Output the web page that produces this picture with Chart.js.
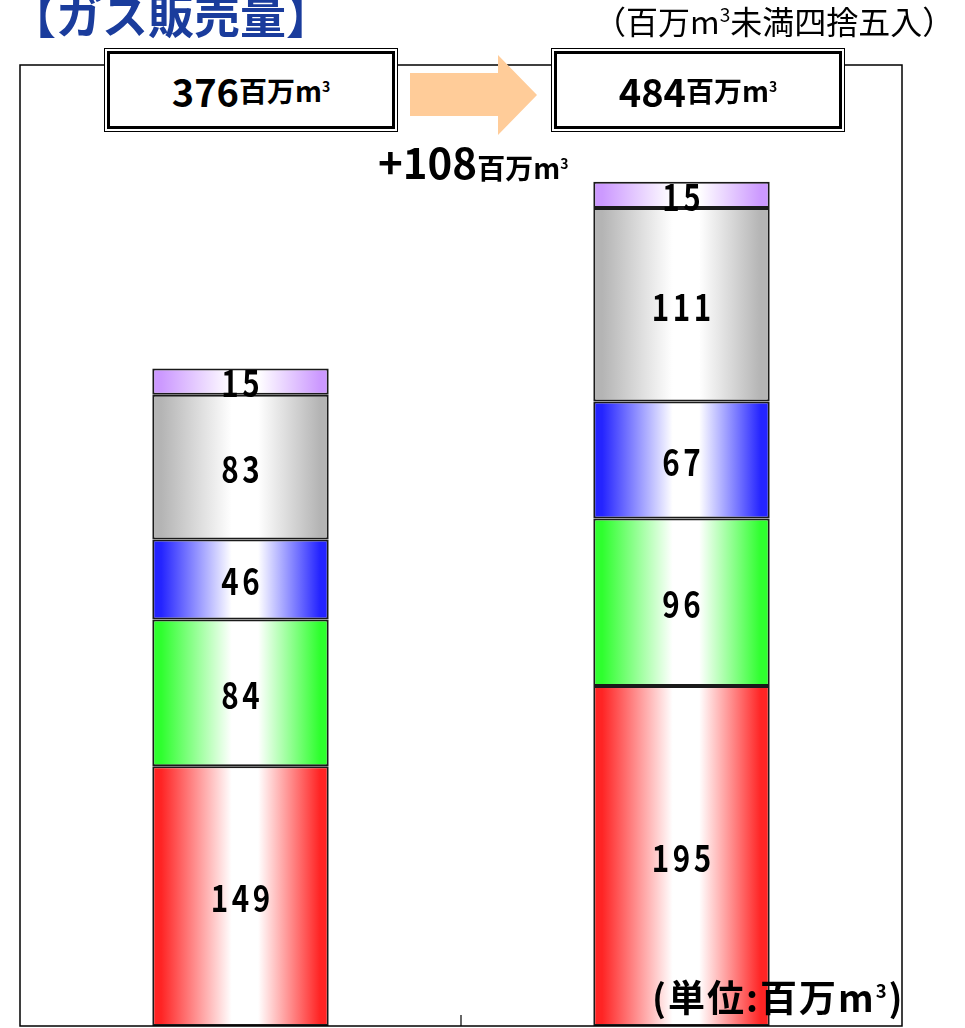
<!DOCTYPE html>
<html lang="ja">
<head>
<meta charset="utf-8">
<title>ガス販売量</title>
<script src="https://cdn.jsdelivr.net/npm/chart.js@4/dist/chart.umd.min.js"></script>
<style>
  html, body { margin: 0; padding: 0; background: #fff; }
  body { width: 965px; height: 1028px; position: relative; overflow: hidden;
         font-family: "Noto Sans CJK JP", "Noto Sans", sans-serif; color: #000; }
  #wrap { position: absolute; left: 0; top: 0; width: 965px; height: 1028px; }
  .abs { position: absolute; white-space: nowrap; line-height: 1; }
  #title { left: 10px; top: -10px; font-size: 46px; font-weight: 700; color: #1a3c9c; }
  #note { left: 594px; top: 4px; font-size: 32px; font-weight: 400; }
  #note sup { font-size: 0.6em; vertical-align: 0; position: relative; top: -0.6em; }
  .box sup, #diff sup, #unit sup { font-size: 0.5em; vertical-align: 0; position: relative; top: -0.75em; }
  .box { position: absolute; top: 48px; width: 292px; height: 82px; background: #fff;
         border: 1.5px solid #000; }
  .box .inner { position: absolute; left: 2px; top: 2px; right: 2px; bottom: 2px;
                border: 3px solid #000; display: flex; align-items: center; justify-content: center; }
  .num { font-size: 38px; font-weight: 700; }
  .u { font-size: 28px; font-weight: 700; }
  #arrow { left: 410px; top: 55px; width: 127px; height: 80px; background: #ffcc99;
           clip-path: polygon(0 18px, 88px 18px, 88px 0, 127px 40px, 88px 80px, 88px 61px, 0 61px); }
  #diff { left: 378px; top: 140px; }
  #diff .num { font-size: 42px; }
  #unit { left: 652px; top: 978px; font-size: 37px; font-weight: 700; letter-spacing: 2px; }
</style>
</head>
<body>
<div id="wrap"><canvas id="gasChart" width="965" height="1028"></canvas></div>

<div id="title" class="abs">【ガス販売量】</div>
<div id="note" class="abs">（百万m<sup>3</sup>未満四捨五入）</div>

<div class="box" style="left:104px"><div class="inner"><span class="num">376</span><span class="u">百万m<sup>3</sup></span></div></div>
<div id="arrow" class="abs"></div>
<div class="box" style="left:551px"><div class="inner"><span class="num">484</span><span class="u">百万m<sup>3</sup></span></div></div>
<div id="diff" class="abs"><span class="num">+108</span><span class="u">百万m<sup>3</sup></span></div>

<div id="unit" class="abs">(単位:百万m<sup>3</sup>)</div>

<script>
// categories (not printed in the picture)
const periods = ['前期', '当期'];

// stacked series, bottom to top
const seriesRed    = [149, 195];
const seriesGreen  = [84, 96];
const seriesBlue   = [46, 67];
const seriesGray   = [83, 111];
const seriesPurple = [15, 15];

const yMax = 551;

// horizontal "edge - white - edge" fill like the original bars
function barGradient(edge) {
  return (ctx) => {
    const chart = ctx.chart;
    const area = chart.chartArea;
    if (!area) return edge;
    const cx = chart.scales.x.getPixelForValue(ctx.dataIndex);
    const half = (area.width / periods.length) * 0.4 / 2;
    const g = chart.ctx.createLinearGradient(cx - half, 0, cx + half, 0);
    g.addColorStop(0, edge);
    g.addColorStop(0.05, edge);
    g.addColorStop(0.45, '#ffffff');
    g.addColorStop(0.6, '#ffffff');
    g.addColorStop(0.95, edge);
    g.addColorStop(1, edge);
    return g;
  };
}

function makeSet(label, data, edge) {
  return {
    label: label,
    data: data,
    backgroundColor: barGradient(edge),
    borderColor: '#1a1a1a',
    borderWidth: 2,
    borderSkipped: false,
    barPercentage: 0.4,
    categoryPercentage: 1.0
  };
}

// frame around plot area + small divider tick at the bottom
const framePlugin = {
  id: 'frame',
  afterDatasetsDraw(chart) {
    const { ctx, chartArea: a } = chart;
    const xs = chart.scales.x;
    ctx.save();
    ctx.strokeStyle = '#000';
    ctx.lineWidth = 1.5;
    ctx.strokeRect(a.left, a.top, a.right - a.left, a.bottom - a.top);
    const mid = (xs.getPixelForValue(0) + xs.getPixelForValue(1)) / 2;
    ctx.lineWidth = 1.2;
    ctx.beginPath();
    ctx.moveTo(mid, a.bottom);
    ctx.lineTo(mid, a.bottom - 11);
    ctx.stroke();
    ctx.restore();
  }
};

// value labels in the middle of each segment
const valuePlugin = {
  id: 'values',
  afterDatasetsDraw(chart) {
    const ctx = chart.ctx;
    ctx.save();
    ctx.fillStyle = '#000';
    ctx.font = '700 36px "Noto Sans CJK JP", sans-serif';
    ctx.textAlign = 'center';
    ctx.textBaseline = 'middle';
    chart.data.datasets.forEach((ds, di) => {
      chart.getDatasetMeta(di).data.forEach((bar, i) => {
        const txt = String(ds.data[i]);
        const y = (bar.y + bar.base) / 2 + 2;
        const adv = 21;
        const x0 = bar.x - adv * (txt.length - 1) / 2;
        for (let k = 0; k < txt.length; k++) {
          ctx.save();
          ctx.translate(x0 + k * adv, y);
          ctx.scale(0.82, 1);
          ctx.fillText(txt[k], 0, 0);
          ctx.restore();
        }
      });
    });
    ctx.restore();
  }
};

new Chart(document.getElementById('gasChart'), {
  type: 'bar',
  data: {
    labels: periods,
    datasets: [
      makeSet('系列1', seriesRed, '#ff2424'),
      makeSet('系列2', seriesGreen, '#2eff2e'),
      makeSet('系列3', seriesBlue, '#2424ff'),
      makeSet('系列4', seriesGray, '#b4b4b4'),
      makeSet('系列5', seriesPurple, '#cc99ff')
    ]
  },
  options: {
    responsive: false,
    animation: false,
    layout: { padding: { left: 20, right: 63, top: 65, bottom: 2 } },
    plugins: { legend: { display: false }, tooltip: { enabled: false } },
    scales: {
      x: { stacked: true, display: false },
      y: { stacked: true, display: false, min: 0, max: yMax }
    }
  },
  plugins: [framePlugin, valuePlugin]
});
</script>
</body>
</html>
